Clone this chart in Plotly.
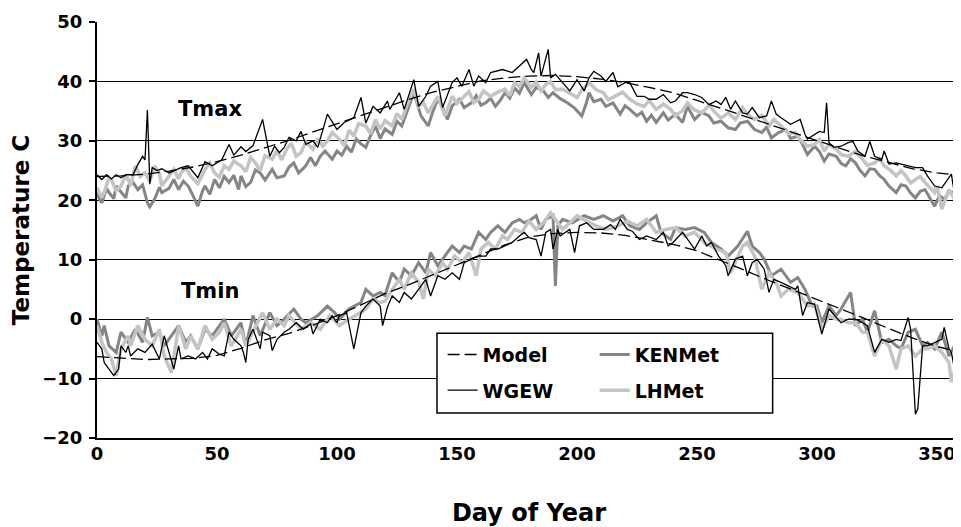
import plotly.graph_objects as go

# ---- data (day of year, temperature C) ----
model_day = [0, 10, 20, 30, 40, 50, 60, 70, 80, 90, 100, 110, 120, 130, 140, 150, 160, 170, 180,
             190, 200, 210, 220, 230, 240, 250, 260, 270, 280, 290, 300, 310, 320, 330, 340, 350, 360]
model_tmax = [24.0, 24.1, 24.4, 24.9, 25.6, 26.5, 27.6, 28.8, 30.1, 31.5, 32.9, 34.3, 35.7, 37.0,
              38.2, 39.2, 40.1, 40.6, 40.9, 41.0, 40.8, 40.4, 39.8, 39.0, 38.1, 36.8, 35.5, 34.2,
              32.8, 31.4, 30.0, 28.7, 27.4, 26.3, 25.3, 24.6, 24.2]
model_tmin = [-6.3, -6.6, -6.8, -6.7, -6.6, -6.1, -4.9, -3.5, -2.4, -1.0, 0.6, 2.4, 4.3, 5.8, 7.5,
              9.2, 10.8, 12.5, 13.8, 14.4, 14.6, 14.5, 14.1, 13.4, 12.6, 11.5, 9.9, 8.2, 6.5, 4.9,
              3.3, 1.8, 0.1, -1.6, -3.2, -4.6, -5.6]

wgew_tmax_day = [0, 2, 4, 6, 8, 10, 12, 15, 17, 19, 20, 21, 22, 23, 25, 27, 30, 35, 38, 42, 45, 48,
                 52, 55, 57, 60, 62, 65, 69, 72, 74, 76, 78, 80, 83, 85, 87, 90, 92, 94, 96, 100,
                 103, 107, 110, 112, 115, 118, 121, 122, 126, 128, 132, 134, 137, 139, 142, 144,
                 148, 150, 152, 155, 157, 159, 162, 164, 169, 173, 176, 179, 181, 182, 184, 185,
                 188, 189, 191, 194, 197, 200, 203, 205, 207, 210, 212, 215, 217, 220, 222, 225,
                 228, 230, 233, 236, 239, 241, 244, 246, 249, 252, 255, 258, 260, 262, 264, 266,
                 269, 271, 273, 276, 279, 281, 283, 285, 287, 289, 293, 295, 296, 299, 301, 303,
                 304, 305, 307, 310, 313, 315, 317, 320, 322, 324, 327, 328, 330, 333, 335, 338,
                 341, 344, 346, 349, 352, 356, 357, 360]
wgew_tmax = [24.3, 23.5, 24.3, 23.6, 24.3, 23.8, 24.3, 24.3, 26.0, 27.4, 26.8, 35.2, 22.7, 25.5,
             25.0, 25.3, 24.6, 25.5, 25.8, 23.8, 26.5, 25.8, 26.8, 29.4, 27.6, 29.0, 28.2, 29.2,
             33.6, 27.4, 29.1, 28.0, 28.9, 30.6, 30.0, 31.6, 29.4, 30.0, 28.9, 31.9, 34.5, 31.9,
             33.1, 33.9, 37.3, 33.0, 35.8, 34.7, 36.7, 35.3, 38.1, 35.3, 40.3, 35.8, 37.5, 39.2,
             40.0, 35.6, 39.8, 40.6, 39.2, 42.0, 39.2, 40.9, 39.8, 41.5, 42.0, 41.5, 42.6, 43.7,
             42.0, 41.5, 44.8, 40.9, 45.4, 40.6, 41.2, 39.8, 38.4, 40.3, 38.4, 40.6, 41.7, 40.9,
             40.0, 41.5, 39.1, 39.8, 39.8, 37.5, 37.5, 37.0, 37.0, 37.8, 36.4, 36.7, 38.1, 38.1,
             37.8, 37.3, 36.1, 36.7, 36.1, 37.3, 35.3, 36.7, 34.7, 34.5, 35.6, 33.9, 34.2, 36.7,
             34.5, 33.9, 33.3, 32.8, 33.6, 31.1, 30.3, 31.0, 31.6, 31.4, 36.4, 29.7, 28.9, 29.1,
             29.7, 29.9, 28.3, 27.4, 29.9, 27.4, 26.9, 28.3, 26.1, 26.3, 26.1, 25.8, 25.5, 25.5,
             24.1, 22.4, 22.1, 24.4, 21.8, 23.5]

ken_tmax_day = [0, 1, 2, 4, 5, 7, 8, 10, 12, 13, 15, 17, 19, 21, 22, 24, 26, 27, 30, 32, 34, 36,
                38, 40, 42, 44, 45, 47, 49, 51, 53, 55, 57, 59, 60, 62, 64, 66, 68, 70, 73, 75,
                78, 80, 82, 84, 87, 89, 91, 93, 95, 98, 100, 102, 104, 106, 108, 110, 112, 114,
                116, 118, 120, 123, 125, 127, 129, 132, 135, 138, 140, 142, 144, 146, 148, 151,
                153, 156, 158, 160, 162, 164, 166, 168, 170, 172, 174, 176, 178, 181, 183, 186,
                188, 190, 193, 196, 199, 202, 204, 205, 207, 210, 212, 215, 218, 220, 222, 225,
                227, 229, 231, 233, 236, 238, 241, 244, 246, 249, 252, 255, 257, 260, 263, 266,
                268, 271, 274, 277, 279, 281, 284, 287, 289, 292, 294, 296, 299, 301, 303, 305,
                308, 310, 312, 314, 316, 318, 320, 322, 324, 326, 328, 330, 333, 335, 337, 339,
                341, 343, 345, 347, 349, 351, 353, 355, 358, 360]
ken_tmax = [21.3, 20.2, 19.6, 22.0, 21.3, 20.3, 22.4, 21.3, 20.4, 22.4, 23.0, 21.8, 22.6, 19.6,
            18.9, 20.2, 22.2, 21.3, 22.0, 23.5, 21.8, 23.2, 22.4, 20.8, 19.0, 21.6, 22.4, 21.0,
            23.5, 22.1, 24.0, 23.0, 24.2, 21.8, 24.1, 22.3, 23.0, 25.1, 24.6, 23.4, 25.2, 23.8,
            24.1, 25.6, 26.3, 24.6, 25.8, 27.2, 25.8, 27.4, 28.3, 26.9, 28.3, 27.6, 29.1, 28.1,
            30.3, 29.5, 28.9, 30.9, 32.5, 30.4, 32.0, 31.1, 33.3, 32.5, 34.6, 38.1, 34.2, 32.5,
            35.0, 37.0, 35.7, 33.6, 35.9, 37.0, 35.6, 36.4, 37.6, 36.0, 36.4, 37.2, 35.8, 36.8,
            38.1, 37.2, 38.9, 38.0, 39.8, 37.8, 39.0, 38.4, 37.3, 38.1, 37.1, 36.4, 35.5, 34.2,
            36.5, 38.1, 36.6, 37.0, 35.8, 36.4, 34.5, 35.9, 35.3, 34.2, 34.8, 33.3, 34.3, 33.1,
            34.7, 33.5, 34.5, 33.1, 35.8, 33.6, 34.8, 34.2, 33.0, 33.3, 32.2, 31.9, 33.0, 33.3,
            31.9, 31.4, 32.3, 30.5, 31.4, 31.9, 30.4, 30.8, 29.4, 27.7, 29.1, 28.2, 26.6, 27.8,
            27.4, 26.2, 25.8, 27.0, 26.3, 25.0, 24.1, 25.3, 25.2, 24.2, 23.5, 22.4, 21.3, 22.6,
            22.4, 21.2, 20.4, 21.5, 21.8, 20.4, 19.0, 20.8, 20.2, 21.4, 21.3, 19.6]

lh_tmax_day = [0, 2, 3, 5, 6, 8, 10, 12, 13, 14, 16, 18, 20, 22, 24, 26, 27, 29, 32, 34, 35, 37,
               39, 42, 45, 47, 49, 51, 53, 55, 57, 60, 62, 64, 66, 68, 70, 73, 75, 77, 79, 81, 83,
               85, 87, 90, 92, 94, 96, 98, 101, 103, 105, 107, 109, 112, 114, 116, 118, 120, 123,
               125, 127, 129, 132, 134, 136, 138, 140, 142, 145, 148, 150, 153, 155, 157, 159,
               161, 164, 167, 170, 172, 174, 176, 178, 181, 183, 185, 187, 189, 191, 194, 197,
               200, 202, 205, 208, 211, 213, 216, 219, 222, 225, 228, 230, 233, 236, 239, 241,
               244, 246, 249, 252, 255, 257, 260, 263, 266, 269, 271, 274, 277, 280, 282, 285,
               288, 291, 293, 296, 299, 301, 303, 305, 308, 310, 313, 316, 319, 321, 324, 326,
               328, 331, 333, 335, 337, 339, 341, 343, 345, 347, 349, 350, 352, 355, 357, 359, 360]
lh_tmax = [22.1, 20.5, 21.3, 23.8, 23.5, 21.6, 22.4, 24.2, 23.5, 22.5, 25.8, 24.0, 24.6, 23.2,
           25.8, 24.5, 22.4, 23.5, 25.2, 23.6, 24.6, 25.5, 24.1, 22.8, 25.2, 26.3, 24.6, 23.9,
           25.8, 25.2, 26.6, 25.8, 24.8, 27.2, 26.3, 25.0, 27.5, 26.9, 28.4, 26.8, 28.6, 29.6,
           27.4, 28.0, 29.8, 28.6, 30.4, 29.1, 30.0, 31.4, 30.3, 29.2, 31.8, 30.8, 32.9, 32.5,
           31.2, 33.6, 32.0, 33.4, 32.5, 34.6, 33.6, 35.8, 38.7, 35.8, 36.5, 34.7, 36.2, 37.5,
           34.2, 37.5, 36.3, 37.5, 38.3, 36.4, 37.0, 38.4, 37.5, 38.2, 38.7, 37.6, 39.8, 39.1,
           40.6, 39.0, 39.9, 38.4, 39.5, 40.0, 38.6, 38.7, 38.0, 37.3, 38.5, 39.8, 38.6, 38.1,
           36.9, 37.5, 38.2, 37.0, 36.2, 35.8, 36.8, 35.3, 36.2, 35.3, 34.2, 35.1, 36.4, 35.2,
           34.7, 36.0, 35.0, 33.8, 34.7, 33.6, 35.6, 34.5, 33.6, 34.3, 32.5, 33.6, 32.5, 31.2,
           31.4, 30.2, 29.1, 29.4, 30.2, 28.3, 29.4, 28.6, 27.7, 27.4, 28.2, 26.9, 25.9, 26.3,
           27.0, 25.8, 24.9, 24.1, 25.0, 24.1, 22.9, 23.5, 24.0, 23.0, 22.2, 21.3, 22.4, 18.5,
           21.8, 20.4, 20.7, 21.5]

wgew_tmin_day = [0, 2, 3, 5, 7, 9, 10, 12, 13, 14, 17, 20, 23, 26, 28, 30, 32, 34, 35, 38, 41, 44,
                 46, 48, 51, 53, 55, 57, 60, 61, 62, 63, 65, 68, 69, 72, 73, 75, 78, 80, 83, 86,
                 89, 90, 93, 96, 98, 100, 101, 104, 107, 110, 112, 115, 118, 119, 121, 123, 126,
                 128, 131, 134, 137, 139, 142, 145, 148, 151, 153, 156, 159, 162, 164, 167, 170,
                 173, 176, 178, 180, 183, 185, 187, 189, 190, 192, 193, 194, 197, 199, 201, 204,
                 207, 211, 214, 216, 218, 221, 223, 226, 229, 233, 236, 238, 240, 244, 248, 249,
                 252, 254, 256, 259, 262, 263, 266, 269, 271, 273, 275, 278, 280, 282, 285, 288,
                 291, 292, 294, 296, 299, 302, 305, 308, 310, 313, 316, 319, 321, 324, 327, 330,
                 333, 335, 338, 339, 341, 342, 344, 346, 349, 352, 353, 355, 356, 357, 359, 360]
wgew_tmin = [-3.9, -5.0, -7.3, -8.4, -9.5, -8.4, -4.5, -5.6, -4.5, -6.2, -5.0, -5.6, -4.2, -6.7,
             -2.8, -5.6, -8.4, -4.5, -6.7, -6.2, -6.7, -5.6, -6.7, -5.0, -5.9, -6.2, -2.2, -3.4,
             -4.5, -5.6, -7.3, -3.4, -1.7, -5.0, -2.2, -2.8, -5.3, -3.4, -2.2, -1.7, -0.6, -1.7,
             -0.8, -2.5, 0.0, -0.6, 0.6, -0.6, 0.6, 1.1, -5.0, 1.1, 2.2, 3.4, 2.2, -1.1, 2.0, 3.9,
             2.8, 4.5, 3.4, 5.0, 6.7, 3.9, 7.3, 6.7, 7.8, 6.7, 9.5, 10.1, 10.6, 10.6, 11.8, 11.8,
             12.3, 12.9, 14.0, 14.6, 13.7, 13.4, 10.6, 14.6, 15.1, 11.8, 15.1, 14.0, 14.3, 15.1,
             11.2, 15.7, 16.2, 15.1, 15.1, 15.9, 15.1, 16.8, 15.1, 14.8, 13.4, 14.0, 13.4, 14.6,
             12.3, 12.9, 14.6, 12.3, 11.8, 14.0, 12.3, 12.9, 10.6, 9.0, 7.3, 10.1, 10.6, 7.3, 9.5,
             10.1, 8.4, 4.5, 6.7, 6.2, 5.6, 5.0, 5.6, 0.6, 2.8, 2.5, -2.5, 1.7, 0.3, -0.6, 0.0,
             0.0, -0.6, -1.1, -5.6, -3.4, -3.9, -3.4, -3.6, 0.3, -1.7, -16.0, -15.1, -4.5, -4.5,
             -3.9, -3.4, -1.4, -5.0, -5.6, -7.8, -5.0, -8.5]

ken_tmin_day = [0, 2, 3, 5, 8, 10, 13, 16, 19, 21, 23, 26, 28, 31, 34, 37, 39, 42, 45, 48, 51, 53,
                56, 59, 60, 62, 65, 68, 72, 75, 78, 82, 85, 87, 92, 96, 99, 101, 105, 110, 112,
                115, 118, 120, 123, 126, 128, 131, 134, 137, 139, 142, 145, 148, 151, 153, 156,
                159, 162, 164, 167, 170, 173, 176, 178, 181, 183, 185, 187, 190, 191, 192, 194,
                198, 203, 207, 211, 215, 219, 222, 226, 229, 233, 235, 239, 241, 245, 249, 253,
                256, 260, 263, 267, 271, 273, 276, 278, 281, 285, 289, 292, 295, 298, 300, 302,
                305, 308, 310, 314, 316, 319, 321, 324, 327, 330, 333, 335, 338, 341, 344, 346,
                349, 352, 355, 358, 360]
ken_tmin = [0.0, -2.8, -1.1, -4.5, -5.6, -2.2, -3.9, -1.7, -3.9, 0.3, -2.8, -2.2, -4.5, -2.8,
            -1.1, -3.9, -2.8, -5.0, -1.7, -2.8, -1.1, 0.0, -2.8, -1.1, -0.6, -4.5, 0.6, -2.8, 1.1,
            -1.1, 0.0, 1.7, 0.0, -0.6, 0.6, 2.2, 1.1, 0.0, 1.7, 2.8, 5.0, 3.9, 4.5, 4.0, 7.8, 6.2,
            8.4, 7.3, 9.5, 7.8, 11.2, 9.0, 10.6, 12.3, 11.2, 12.3, 11.8, 14.6, 13.4, 14.6, 15.7,
            14.6, 16.2, 16.8, 16.2, 16.8, 17.4, 15.1, 16.8, 17.4, 5.6, 15.7, 16.8, 16.2, 17.4,
            16.8, 17.4, 16.5, 17.4, 15.7, 15.1, 16.2, 17.4, 14.6, 13.4, 15.4, 15.1, 15.4, 14.6,
            12.9, 11.8, 10.6, 12.3, 14.8, 12.3, 11.2, 10.1, 7.3, 8.4, 6.2, 7.0, 5.0, 2.2, 2.2,
            -0.6, 2.2, 0.6, 1.7, 4.5, -1.1, 0.0, -2.2, 1.4, -3.9, -3.4, -4.5, -5.0, -2.2, -1.7,
            -4.5, -3.9, -5.0, -2.2, -6.2, -3.9, -4.5]

lh_tmin_day = [0, 2, 4, 6, 8, 10, 13, 14, 17, 20, 23, 26, 28, 31, 34, 37, 39, 42, 45, 48, 51, 53,
               56, 59, 60, 62, 65, 69, 72, 75, 78, 80, 85, 89, 93, 97, 101, 105, 110, 112, 115,
               118, 120, 123, 126, 128, 131, 134, 136, 138, 141, 144, 146, 149, 152, 155, 158,
               160, 163, 166, 169, 171, 174, 177, 180, 183, 186, 189, 192, 194, 197, 200, 204,
               208, 212, 217, 221, 225, 229, 233, 237, 241, 245, 249, 253, 258, 262, 264, 269,
               271, 274, 277, 280, 283, 285, 288, 292, 296, 299, 302, 305, 308, 310, 313, 316,
               319, 321, 324, 327, 330, 333, 335, 338, 341, 344, 346, 349, 352, 355, 356, 359]
lh_tmin = [-1.1, -3.9, -5.6, -6.7, -9.5, -5.0, -2.8, -4.5, -1.1, -3.4, -4.5, -1.7, -6.2, -9.0,
           -1.1, -5.0, -2.8, -5.0, -1.1, -3.4, -2.2, -0.6, -4.5, -2.2, -1.7, -4.5, -2.2, 1.1, -1.7,
           0.0, -1.1, 0.6, -1.7, -0.6, -1.7, 0.6, -1.1, 0.0, 1.1, 1.7, 3.4, 2.8, 3.0, 5.0, 6.7,
           5.0, 7.8, 6.2, 3.4, 8.4, 7.3, 9.5, 8.4, 10.6, 9.5, 11.2, 7.3, 11.8, 12.9, 11.8, 14.0,
           13.4, 15.1, 14.6, 16.5, 15.1, 16.2, 17.9, 16.2, 15.1, 16.2, 17.4, 16.5, 15.7, 15.1,
           15.7, 16.5, 15.7, 16.8, 14.6, 15.1, 15.4, 14.0, 14.6, 12.9, 11.8, 11.2, 7.8, 12.3,
           12.9, 10.6, 5.0, 7.8, 6.2, 3.9, 5.0, 4.5, 2.2, 2.5, -1.7, 0.6, 0.0, 0.0, -0.6, -0.6,
           -2.2, -2.2, -6.2, -3.4, -4.5, -8.4, -5.0, -4.5, -6.2, -5.0, -5.0, -4.5, -5.6, -7.3,
           -10.6, -6.2]

x_ticks = [0, 50, 100, 150, 200, 250, 300, 350]
y_ticks = [-20, -10, 0, 10, 20, 30, 40, 50]

FONT = "DejaVu Sans, Arial, sans-serif"
KEN_COLOR = "#858585"
LH_COLOR = "#c4c4c4"

fig = go.Figure()


def add_pair(days, tmax_vals, days_min, tmin_vals, name, line, legend):
    fig.add_trace(go.Scatter(x=days, y=tmax_vals, mode="lines", name=name, line=line,
                             legend=legend, legendgroup=name, hoverinfo="skip"))
    fig.add_trace(go.Scatter(x=days_min, y=tmin_vals, mode="lines", name=name, line=line,
                             legend=legend, legendgroup=name, showlegend=False,
                             hoverinfo="skip"))


add_pair(ken_tmax_day, ken_tmax, ken_tmin_day, ken_tmin, "KENMet",
         dict(color=KEN_COLOR, width=3), "legend2")
add_pair(lh_tmax_day, lh_tmax, lh_tmin_day, lh_tmin, "LHMet",
         dict(color=LH_COLOR, width=3.5), "legend2")
add_pair(model_day, model_tmax, model_day, model_tmin, "Model",
         dict(color="black", width=1.3, dash="12px,5px"), "legend")
add_pair(wgew_tmax_day, wgew_tmax, wgew_tmin_day, wgew_tmin, "WGEW",
         dict(color="black", width=1.3), "legend")

legend_font = dict(family=FONT, size=19, color="black", weight="bold")


def bold(size):
    return dict(family=FONT, size=size, color="black", weight="bold")


# the page body adds an 8px offset, so the figure is 8px smaller than the window
fig.update_layout(
    width=953, height=519,
    margin=dict(l=89, r=0, t=14, b=89),
    paper_bgcolor="white", plot_bgcolor="white",
    font=dict(family=FONT, color="black"),
    legend=dict(x=0.400, y=0.246, xanchor="left", yanchor="top", bgcolor="rgba(0,0,0,0)",
                font=legend_font, tracegroupgap=8, itemwidth=30, traceorder="grouped"),
    legend2=dict(x=0.576, y=0.246, xanchor="left", yanchor="top", bgcolor="rgba(0,0,0,0)",
                 font=legend_font, tracegroupgap=8, itemwidth=30, traceorder="grouped"),
    shapes=[dict(type="rect", xref="paper", yref="paper", x0=0.3935, x1=0.782, y0=0.06, y1=0.252,
                 fillcolor="white", line=dict(color="black", width=1.5), layer="above")],
    annotations=[
        dict(x=47, y=35.3, xref="x", yref="y", text="Tmax", showarrow=False, font=bold(21)),
        dict(x=47, y=4.7, xref="x", yref="y", text="Tmin", showarrow=False, font=bold(21)),
    ],
)

fig.update_xaxes(
    range=[0, 360], tickvals=x_ticks, showgrid=False, zeroline=False, automargin=False,
    showline=True, linecolor="black", linewidth=2,
    ticks="", ticklabelstandoff=-2,
    tickfont=bold(18),
    title=dict(text="Day of Year", standoff=42, font=bold(24)),
)
fig.update_yaxes(
    range=[-20, 50], tickvals=y_ticks, showgrid=True, gridcolor="black", gridwidth=1,
    zeroline=False, showline=True, linecolor="black", linewidth=2, automargin=False,
    ticks="outside", ticklen=6, tickwidth=1.5, tickcolor="black", ticklabelstandoff=3,
    ticksuffix="\u00a0\u00a0",
    tickfont=bold(18),
    title=dict(text="Temperature C", standoff=10, font=bold(23)),
)

fig.write_html("out.html")
